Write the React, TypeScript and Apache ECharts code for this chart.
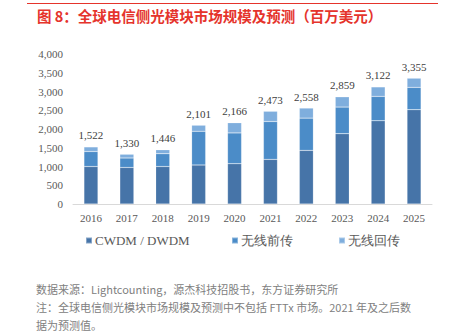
import React, { useEffect, useRef } from "react";
import * as echarts from "echarts";

const years = ["2016", "2017", "2018", "2019", "2020", "2021", "2022", "2023", "2024", "2025"];
const cwdm = [1000, 975, 1000, 1040, 1075, 1190, 1430, 1875, 2220, 2515];
const fronthaul = [400, 250, 340, 900, 820, 1010, 860, 710, 650, 595];
const backhaul = [122, 105, 106, 161, 271, 273, 268, 274, 252, 245];
const totals = [1522, 1330, 1446, 2101, 2166, 2473, 2558, 2859, 3122, 3355];
const seriesNames = ["CWDM / DWDM", "无线前传", "无线回传"];
const colors = ["#4674a8", "#4b8cc8", "#7faedd"];

const titleText = "图 8：全球电信侧光模块市场规模及预测（百万美元）";
const sourceText = "数据来源：Lightcounting，源杰科技招股书，东方证券研究所";
const noteText1 = "注：全球电信侧光模块市场规模及预测中不包括 FTTx 市场。2021 年及之后数";
const noteText2 = "据为预测值。";

export default function App() {
  const ref = useRef<HTMLDivElement>(null);
  useEffect(() => {
    const chart = echarts.init(ref.current!, null, { renderer: "svg" });
    const serif = "'Liberation Serif', 'Times New Roman', serif";
    const sans = "'Noto Sans CJK SC', 'Noto Sans', sans-serif";
    const datas = [cwdm, fronthaul, backhaul];
    const legendLefts = [80, 226, 333];
    chart.setOption({
      animation: false,
      backgroundColor: "#ffffff",
      grid: { left: 73, right: 26, top: 54, bottom: 129, containLabel: false },
      legend: seriesNames.map((n, i) => ({
        data: [n],
        top: 229,
        left: legendLefts[i],
        itemWidth: 6,
        itemHeight: 6,
        icon: "rect",
        textStyle: { color: "#595959", fontSize: 13, fontFamily: serif, padding: [0, 0, 0, -2] },
      })),
      xAxis: {
        type: "category",
        data: years,
        axisLine: { lineStyle: { color: "#d9d9d9" } },
        axisTick: { show: false },
        axisLabel: { color: "#595959", fontSize: 11, fontFamily: serif, margin: 8 },
      },
      yAxis: {
        type: "value",
        min: 0,
        max: 4000,
        interval: 500,
        axisLine: { show: false },
        axisTick: { show: false },
        splitLine: { show: false },
        axisLabel: {
          color: "#595959",
          fontSize: 11,
          fontFamily: serif,
          margin: 10,
          formatter: (v: number) => v.toLocaleString("en-US"),
        },
      },
      series: seriesNames.map((name, i) => ({
        name,
        type: "bar",
        stack: "total",
        barWidth: 14,
        data: datas[i],
        itemStyle: { color: colors[i], borderColor: "rgba(255,255,255,0.35)", borderWidth: 0.5 },
        label:
          i === 2
            ? {
                show: true,
                position: "top",
                distance: 6,
                color: "#404040",
                fontSize: 11,
                fontFamily: serif,
                formatter: (p: any) => totals[p.dataIndex].toLocaleString("en-US"),
              }
            : { show: false },
      })),
      graphic: [
        {
          type: "line",
          shape: { x1: 27, y1: 3.5, x2: 438, y2: 3.5 },
          style: { stroke: "#e5342c", lineWidth: 1 },
        },
        {
          type: "text",
          left: 37,
          top: 8,
          style: { text: titleText, fill: "#e5342c", font: `bold 14.5px ${sans}` },
        },
        {
          type: "text",
          left: 36,
          top: 283,
          style: { text: sourceText, fill: "#808080", font: `11px ${sans}` },
        },
        {
          type: "text",
          left: 36,
          top: 301,
          style: { text: noteText1, fill: "#808080", font: `11px ${sans}` },
        },
        {
          type: "text",
          left: 36,
          top: 319,
          style: { text: noteText2, fill: "#808080", font: `11px ${sans}` },
        },
      ],
    });
    return () => chart.dispose();
  }, []);
  return <div ref={ref} style={{ width: 458, height: 333, position: "absolute", left: 0, top: 0 }} />;
}
